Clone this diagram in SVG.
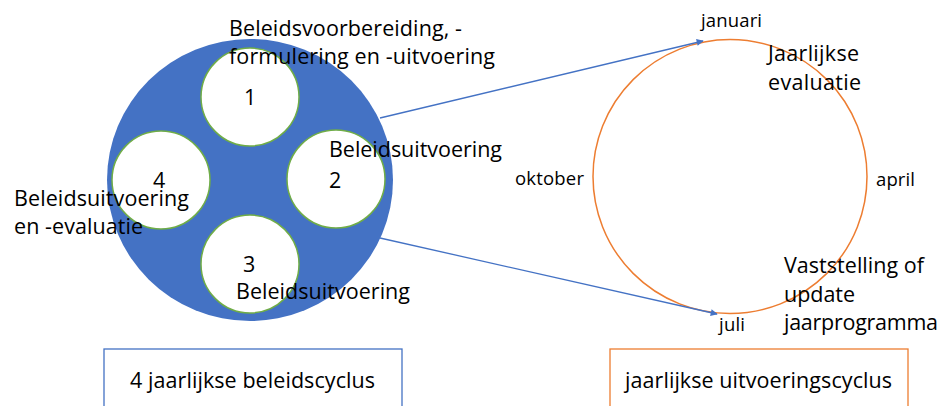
<svg xmlns="http://www.w3.org/2000/svg" width="941" height="406" viewBox="0 0 941 406">
<defs>
<style>
text{font-family:"Open Sans","Liberation Sans",sans-serif;fill:#000}
.l{font-size:21.5px}
.m{font-size:18.5px}
.sc{fill:#fff;stroke:#70ad47;stroke-width:1.5}
.conn{stroke:#4472c4;stroke-width:1.3;fill:none;marker-end:url(#ah)}
</style>
<marker id="ah" viewBox="0 0 10 10" refX="9" refY="5" markerWidth="9" markerHeight="7" markerUnits="userSpaceOnUse" orient="auto">
<path d="M0,0 L10,5 L0,10 z" fill="#4472c4"/>
</marker>
</defs>
<rect width="941" height="406" fill="#fff"/>
<g id="policy-cycle">
<ellipse cx="250" cy="180" rx="143" ry="141" fill="#4472c4"/>
<circle class="sc" cx="250" cy="97" r="49"/>
<circle class="sc" cx="336" cy="179" r="49"/>
<circle class="sc" cx="250" cy="264" r="49"/>
<circle class="sc" cx="161" cy="180" r="49"/>
<text class="l" x="244" y="105">1</text>
<text class="l" x="329" y="188">2</text>
<text class="l" x="243" y="272">3</text>
<text class="l" x="153" y="188">4</text>
<text class="l" x="229" y="36" textLength="233">Beleidsvoorbereiding, -</text>
<text class="l" x="229" y="64" textLength="266">formulering en -uitvoering</text>
<text class="l" x="329" y="157" textLength="173">Beleidsuitvoering</text>
<text class="l" x="14" y="206" textLength="175">Beleidsuitvoering</text>
<text class="l" x="14" y="234" textLength="129">en -evaluatie</text>
<text class="l" x="236" y="299" textLength="174">Beleidsuitvoering</text>
</g>
<g id="year-cycle">
<circle cx="730" cy="176.5" r="137" fill="none" stroke="#ed7d31" stroke-width="1.5"/>
<text class="m" x="701" y="27" textLength="61">januari</text>
<text class="m" x="515" y="185" textLength="69">oktober</text>
<text class="m" x="876" y="186" textLength="39">april</text>
<text class="m" x="719" y="331" textLength="26">juli</text>
<text class="l" x="768" y="61" textLength="91">Jaarlijkse</text>
<text class="l" x="768" y="90" textLength="93">evaluatie</text>
<text class="l" x="784" y="273" textLength="140">Vaststelling of</text>
<text class="l" x="784" y="302" textLength="71">update</text>
<text class="l" x="784" y="330" textLength="154">jaarprogramma</text>
</g>
<g id="connectors">
<line class="conn" x1="380" y1="118" x2="703" y2="41"/>
<line class="conn" x1="380" y1="238" x2="717" y2="314"/>
</g>
<g id="label-policy">
<rect x="104" y="349" width="298" height="70" fill="#fff" stroke="#4472c4" stroke-width="1.3"/>
<text class="l" x="130" y="388" textLength="245">4 jaarlijkse beleidscyclus</text>
</g>
<g id="label-year">
<rect x="610" y="349" width="298" height="70" fill="#fff" stroke="#ed7d31" stroke-width="1.3"/>
<text class="l" x="625" y="388" textLength="267">jaarlijkse uitvoeringscyclus</text>
</g>
</svg>
